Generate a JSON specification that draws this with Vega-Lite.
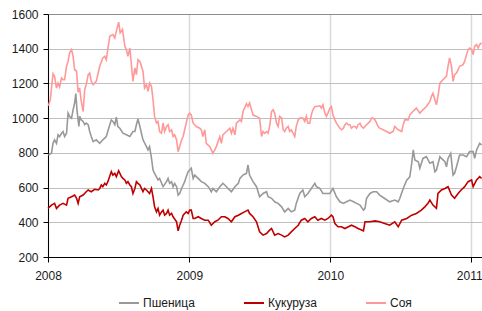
{
  "$schema": "https://vega.github.io/schema/vega-lite/v6.json",
  "width": 434,
  "height": 243,
  "autosize": {"type": "none"},
  "padding": {"left": 48, "top": 14, "right": 0, "bottom": 54},
  "background": "white",
  "config": {
    "view": {"stroke": null},
    "font": "Liberation Sans",
    "axis": {"labelFont": "Liberation Sans", "labelFontSize": 12, "labelColor": "#1a1a1a"}
  },
  "data": {"values": [
{"s":"Соя","d":"2008-01-02","v":1071},{"s":"Соя","d":"2008-01-07","v":1106},{"s":"Соя","d":"2008-01-14","v":1256},{"s":"Соя","d":"2008-01-18","v":1241},{"s":"Соя","d":"2008-01-23","v":1173},{"s":"Соя","d":"2008-01-27","v":1202},{"s":"Соя","d":"2008-01-31","v":1179},{"s":"Соя","d":"2008-02-05","v":1231},{"s":"Соя","d":"2008-02-09","v":1221},{"s":"Соя","d":"2008-02-13","v":1221},{"s":"Соя","d":"2008-02-18","v":1299},{"s":"Соя","d":"2008-02-22","v":1327},{"s":"Соя","d":"2008-02-26","v":1376},{"s":"Соя","d":"2008-03-02","v":1395},{"s":"Соя","d":"2008-03-06","v":1356},{"s":"Соя","d":"2008-03-10","v":1279},{"s":"Соя","d":"2008-03-15","v":1270},{"s":"Соя","d":"2008-03-19","v":1150},{"s":"Соя","d":"2008-03-23","v":1173},{"s":"Соя","d":"2008-03-27","v":1100},{"s":"Соя","d":"2008-04-01","v":1038},{"s":"Соя","d":"2008-04-05","v":1164},{"s":"Соя","d":"2008-04-09","v":1193},{"s":"Соя","d":"2008-04-14","v":1250},{"s":"Соя","d":"2008-04-18","v":1260},{"s":"Соя","d":"2008-04-22","v":1212},{"s":"Соя","d":"2008-04-27","v":1193},{"s":"Соя","d":"2008-05-05","v":1212},{"s":"Соя","d":"2008-05-10","v":1260},{"s":"Соя","d":"2008-05-14","v":1299},{"s":"Соя","d":"2008-05-22","v":1347},{"s":"Соя","d":"2008-05-27","v":1356},{"s":"Соя","d":"2008-05-31","v":1337},{"s":"Соя","d":"2008-06-09","v":1472},{"s":"Соя","d":"2008-06-17","v":1482},{"s":"Соя","d":"2008-06-22","v":1462},{"s":"Соя","d":"2008-06-26","v":1501},{"s":"Соя","d":"2008-07-02","v":1553},{"s":"Соя","d":"2008-07-06","v":1491},{"s":"Соя","d":"2008-07-12","v":1511},{"s":"Соя","d":"2008-07-18","v":1414},{"s":"Соя","d":"2008-07-22","v":1395},{"s":"Соя","d":"2008-07-26","v":1356},{"s":"Соя","d":"2008-07-31","v":1404},{"s":"Соя","d":"2008-08-04","v":1308},{"s":"Соя","d":"2008-08-08","v":1212},{"s":"Соя","d":"2008-08-13","v":1289},{"s":"Соя","d":"2008-08-17","v":1250},{"s":"Соя","d":"2008-08-21","v":1337},{"s":"Соя","d":"2008-08-26","v":1327},{"s":"Соя","d":"2008-08-30","v":1299},{"s":"Соя","d":"2008-09-03","v":1270},{"s":"Соя","d":"2008-09-07","v":1173},{"s":"Соя","d":"2008-09-12","v":1193},{"s":"Соя","d":"2008-09-16","v":1154},{"s":"Соя","d":"2008-09-20","v":1202},{"s":"Соя","d":"2008-09-25","v":1183},{"s":"Соя","d":"2008-09-29","v":1106},{"s":"Соя","d":"2008-10-03","v":1010},{"s":"Соя","d":"2008-10-08","v":972},{"s":"Соя","d":"2008-10-12","v":981},{"s":"Соя","d":"2008-10-16","v":923},{"s":"Соя","d":"2008-10-21","v":913},{"s":"Соя","d":"2008-10-25","v":972},{"s":"Соя","d":"2008-10-29","v":923},{"s":"Соя","d":"2008-11-03","v":952},{"s":"Соя","d":"2008-11-07","v":962},{"s":"Соя","d":"2008-11-11","v":923},{"s":"Соя","d":"2008-11-16","v":933},{"s":"Соя","d":"2008-11-20","v":894},{"s":"Соя","d":"2008-11-24","v":904},{"s":"Соя","d":"2008-11-29","v":875},{"s":"Соя","d":"2008-12-03","v":807},{"s":"Соя","d":"2008-12-07","v":836},{"s":"Соя","d":"2008-12-12","v":875},{"s":"Соя","d":"2008-12-16","v":894},{"s":"Соя","d":"2008-12-20","v":933},{"s":"Соя","d":"2008-12-24","v":972},{"s":"Соя","d":"2008-12-29","v":1019},
{"s":"Соя","d":"2009-01-02","v":1029},{"s":"Соя","d":"2009-01-06","v":1019},{"s":"Соя","d":"2009-01-11","v":971},{"s":"Соя","d":"2009-01-19","v":952},{"s":"Соя","d":"2009-01-28","v":942},{"s":"Соя","d":"2009-02-01","v":933},{"s":"Соя","d":"2009-02-05","v":894},{"s":"Соя","d":"2009-02-10","v":933},{"s":"Соя","d":"2009-02-14","v":855},{"s":"Соя","d":"2009-02-23","v":836},{"s":"Соя","d":"2009-03-03","v":798},{"s":"Соя","d":"2009-03-08","v":817},{"s":"Соя","d":"2009-03-12","v":836},{"s":"Соя","d":"2009-03-21","v":894},{"s":"Соя","d":"2009-03-25","v":855},{"s":"Соя","d":"2009-03-29","v":904},{"s":"Соя","d":"2009-04-07","v":923},{"s":"Соя","d":"2009-04-16","v":942},{"s":"Соя","d":"2009-04-20","v":913},{"s":"Соя","d":"2009-04-24","v":942},{"s":"Соя","d":"2009-04-29","v":904},{"s":"Соя","d":"2009-05-03","v":971},{"s":"Соя","d":"2009-05-12","v":990},{"s":"Соя","d":"2009-05-16","v":981},{"s":"Соя","d":"2009-05-20","v":1038},{"s":"Соя","d":"2009-05-24","v":1058},{"s":"Соя","d":"2009-05-29","v":1083},{"s":"Соя","d":"2009-06-02","v":1067},{"s":"Соя","d":"2009-06-06","v":1087},{"s":"Соя","d":"2009-06-11","v":1048},{"s":"Соя","d":"2009-06-15","v":1019},{"s":"Соя","d":"2009-06-24","v":1010},{"s":"Соя","d":"2009-07-02","v":1000},{"s":"Соя","d":"2009-07-07","v":894},{"s":"Соя","d":"2009-07-11","v":923},{"s":"Соя","d":"2009-07-15","v":913},{"s":"Соя","d":"2009-07-20","v":923},{"s":"Соя","d":"2009-07-24","v":913},{"s":"Соя","d":"2009-07-28","v":952},{"s":"Соя","d":"2009-08-02","v":1038},{"s":"Соя","d":"2009-08-06","v":1048},{"s":"Соя","d":"2009-08-10","v":1029},{"s":"Соя","d":"2009-08-15","v":971},{"s":"Соя","d":"2009-08-19","v":952},{"s":"Соя","d":"2009-08-23","v":1010},{"s":"Соя","d":"2009-08-28","v":1000},{"s":"Соя","d":"2009-09-01","v":933},{"s":"Соя","d":"2009-09-05","v":923},{"s":"Соя","d":"2009-09-09","v":942},{"s":"Соя","d":"2009-09-14","v":952},{"s":"Соя","d":"2009-09-18","v":923},{"s":"Соя","d":"2009-09-22","v":933},{"s":"Соя","d":"2009-09-27","v":913},{"s":"Соя","d":"2009-10-01","v":894},{"s":"Соя","d":"2009-10-05","v":952},{"s":"Соя","d":"2009-10-10","v":990},{"s":"Соя","d":"2009-10-14","v":1000},{"s":"Соя","d":"2009-10-22","v":1000},{"s":"Соя","d":"2009-10-27","v":981},{"s":"Соя","d":"2009-10-31","v":1010},{"s":"Соя","d":"2009-11-04","v":971},{"s":"Соя","d":"2009-11-09","v":971},{"s":"Соя","d":"2009-11-13","v":1019},{"s":"Соя","d":"2009-11-17","v":1048},{"s":"Соя","d":"2009-11-22","v":1067},{"s":"Соя","d":"2009-11-26","v":1067},{"s":"Соя","d":"2009-12-05","v":1071},{"s":"Соя","d":"2009-12-09","v":1058},{"s":"Соя","d":"2009-12-13","v":1077},{"s":"Соя","d":"2009-12-18","v":1029},{"s":"Соя","d":"2009-12-22","v":1010},{"s":"Соя","d":"2009-12-26","v":1029},{"s":"Соя","d":"2009-12-31","v":1058},
{"s":"Соя","d":"2010-01-04","v":1067},{"s":"Соя","d":"2010-01-08","v":1019},{"s":"Соя","d":"2010-01-13","v":990},{"s":"Соя","d":"2010-01-17","v":971},{"s":"Соя","d":"2010-01-26","v":942},{"s":"Соя","d":"2010-01-30","v":933},{"s":"Соя","d":"2010-02-04","v":942},{"s":"Соя","d":"2010-02-08","v":962},{"s":"Соя","d":"2010-02-12","v":971},{"s":"Соя","d":"2010-02-17","v":962},{"s":"Соя","d":"2010-02-21","v":962},{"s":"Соя","d":"2010-02-25","v":942},{"s":"Соя","d":"2010-03-02","v":952},{"s":"Соя","d":"2010-03-06","v":952},{"s":"Соя","d":"2010-03-10","v":942},{"s":"Соя","d":"2010-03-14","v":962},{"s":"Соя","d":"2010-03-19","v":971},{"s":"Соя","d":"2010-03-23","v":952},{"s":"Соя","d":"2010-03-28","v":942},{"s":"Соя","d":"2010-04-05","v":962},{"s":"Соя","d":"2010-04-14","v":981},{"s":"Соя","d":"2010-04-18","v":1000},{"s":"Соя","d":"2010-04-22","v":1000},{"s":"Соя","d":"2010-04-27","v":990},{"s":"Соя","d":"2010-05-01","v":971},{"s":"Соя","d":"2010-05-05","v":952},{"s":"Соя","d":"2010-05-09","v":942},{"s":"Соя","d":"2010-05-18","v":933},{"s":"Соя","d":"2010-05-27","v":923},{"s":"Соя","d":"2010-06-04","v":913},{"s":"Соя","d":"2010-06-13","v":923},{"s":"Соя","d":"2010-06-17","v":952},{"s":"Соя","d":"2010-06-26","v":933},{"s":"Соя","d":"2010-07-05","v":923},{"s":"Соя","d":"2010-07-09","v":962},{"s":"Соя","d":"2010-07-13","v":990},{"s":"Соя","d":"2010-07-22","v":990},{"s":"Соя","d":"2010-07-26","v":1019},{"s":"Соя","d":"2010-08-03","v":1038},{"s":"Соя","d":"2010-08-12","v":1058},{"s":"Соя","d":"2010-08-21","v":1029},{"s":"Соя","d":"2010-08-29","v":1048},{"s":"Соя","d":"2010-09-07","v":1067},{"s":"Соя","d":"2010-09-16","v":1096},{"s":"Соя","d":"2010-09-20","v":1125},{"s":"Соя","d":"2010-09-24","v":1144},{"s":"Соя","d":"2010-09-29","v":1106},{"s":"Соя","d":"2010-10-03","v":1077},{"s":"Соя","d":"2010-10-07","v":1125},{"s":"Соя","d":"2010-10-12","v":1202},{"s":"Соя","d":"2010-10-20","v":1221},{"s":"Соя","d":"2010-10-29","v":1241},{"s":"Соя","d":"2010-11-02","v":1299},{"s":"Соя","d":"2010-11-06","v":1347},{"s":"Соя","d":"2010-11-11","v":1299},{"s":"Соя","d":"2010-11-15","v":1212},{"s":"Соя","d":"2010-11-19","v":1250},{"s":"Соя","d":"2010-11-24","v":1260},{"s":"Соя","d":"2010-12-02","v":1299},{"s":"Соя","d":"2010-12-11","v":1308},{"s":"Соя","d":"2010-12-15","v":1327},{"s":"Соя","d":"2010-12-20","v":1366},{"s":"Соя","d":"2010-12-24","v":1395},{"s":"Соя","d":"2010-12-28","v":1404},{"s":"Соя","d":"2011-01-02","v":1395},{"s":"Соя","d":"2011-01-06","v":1366},{"s":"Соя","d":"2011-01-10","v":1414},{"s":"Соя","d":"2011-01-15","v":1424},{"s":"Соя","d":"2011-01-19","v":1404},{"s":"Соя","d":"2011-01-23","v":1424},{"s":"Соя","d":"2011-01-28","v":1433},
{"s":"Пшеница","d":"2008-01-02","v":788},{"s":"Пшеница","d":"2008-01-10","v":798},{"s":"Пшеница","d":"2008-01-14","v":855},{"s":"Пшеница","d":"2008-01-18","v":875},{"s":"Пшеница","d":"2008-01-23","v":855},{"s":"Пшеница","d":"2008-01-27","v":904},{"s":"Пшеница","d":"2008-01-31","v":894},{"s":"Пшеница","d":"2008-02-05","v":913},{"s":"Пшеница","d":"2008-02-09","v":923},{"s":"Пшеница","d":"2008-02-13","v":894},{"s":"Пшеница","d":"2008-02-18","v":913},{"s":"Пшеница","d":"2008-02-22","v":1029},{"s":"Пшеница","d":"2008-02-26","v":1010},{"s":"Пшеница","d":"2008-03-02","v":1000},{"s":"Пшеница","d":"2008-03-06","v":1048},{"s":"Пшеница","d":"2008-03-10","v":1087},{"s":"Пшеница","d":"2008-03-13","v":1141},{"s":"Пшеница","d":"2008-03-16","v":1048},{"s":"Пшеница","d":"2008-03-21","v":952},{"s":"Пшеница","d":"2008-03-23","v":1010},{"s":"Пшеница","d":"2008-03-27","v":990},{"s":"Пшеница","d":"2008-04-01","v":981},{"s":"Пшеница","d":"2008-04-05","v":962},{"s":"Пшеница","d":"2008-04-09","v":971},{"s":"Пшеница","d":"2008-04-14","v":962},{"s":"Пшеница","d":"2008-04-18","v":923},{"s":"Пшеница","d":"2008-04-22","v":894},{"s":"Пшеница","d":"2008-04-27","v":865},{"s":"Пшеница","d":"2008-05-05","v":875},{"s":"Пшеница","d":"2008-05-14","v":855},{"s":"Пшеница","d":"2008-05-18","v":865},{"s":"Пшеница","d":"2008-05-22","v":875},{"s":"Пшеница","d":"2008-05-31","v":894},{"s":"Пшеница","d":"2008-06-09","v":962},{"s":"Пшеница","d":"2008-06-13","v":990},{"s":"Пшеница","d":"2008-06-17","v":981},{"s":"Пшеница","d":"2008-06-22","v":962},{"s":"Пшеница","d":"2008-06-26","v":1006},{"s":"Пшеница","d":"2008-06-30","v":952},{"s":"Пшеница","d":"2008-07-05","v":942},{"s":"Пшеница","d":"2008-07-13","v":913},{"s":"Пшеница","d":"2008-07-22","v":904},{"s":"Пшеница","d":"2008-07-31","v":894},{"s":"Пшеница","d":"2008-08-08","v":923},{"s":"Пшеница","d":"2008-08-13","v":923},{"s":"Пшеница","d":"2008-08-17","v":962},{"s":"Пшеница","d":"2008-08-21","v":996},{"s":"Пшеница","d":"2008-08-26","v":952},{"s":"Пшеница","d":"2008-08-30","v":913},{"s":"Пшеница","d":"2008-09-03","v":875},{"s":"Пшеница","d":"2008-09-12","v":836},{"s":"Пшеница","d":"2008-09-16","v":817},{"s":"Пшеница","d":"2008-09-20","v":836},{"s":"Пшеница","d":"2008-09-25","v":770},{"s":"Пшеница","d":"2008-09-29","v":701},{"s":"Пшеница","d":"2008-10-03","v":682},{"s":"Пшеница","d":"2008-10-12","v":644},{"s":"Пшеница","d":"2008-10-16","v":653},{"s":"Пшеница","d":"2008-10-25","v":605},{"s":"Пшеница","d":"2008-11-03","v":634},{"s":"Пшеница","d":"2008-11-07","v":653},{"s":"Пшеница","d":"2008-11-11","v":624},{"s":"Пшеница","d":"2008-11-16","v":634},{"s":"Пшеница","d":"2008-11-20","v":605},{"s":"Пшеница","d":"2008-11-24","v":624},{"s":"Пшеница","d":"2008-11-29","v":605},{"s":"Пшеница","d":"2008-12-03","v":557},{"s":"Пшеница","d":"2008-12-07","v":566},{"s":"Пшеница","d":"2008-12-12","v":595},{"s":"Пшеница","d":"2008-12-16","v":615},{"s":"Пшеница","d":"2008-12-20","v":634},{"s":"Пшеница","d":"2008-12-24","v":663},{"s":"Пшеница","d":"2008-12-29","v":692},
{"s":"Пшеница","d":"2009-01-02","v":701},{"s":"Пшеница","d":"2009-01-06","v":711},{"s":"Пшеница","d":"2009-01-11","v":653},{"s":"Пшеница","d":"2009-01-15","v":672},{"s":"Пшеница","d":"2009-01-24","v":653},{"s":"Пшеница","d":"2009-02-01","v":634},{"s":"Пшеница","d":"2009-02-10","v":624},{"s":"Пшеница","d":"2009-02-19","v":605},{"s":"Пшеница","d":"2009-02-27","v":576},{"s":"Пшеница","d":"2009-03-03","v":595},{"s":"Пшеница","d":"2009-03-12","v":576},{"s":"Пшеница","d":"2009-03-21","v":605},{"s":"Пшеница","d":"2009-03-29","v":624},{"s":"Пшеница","d":"2009-04-03","v":615},{"s":"Пшеница","d":"2009-04-11","v":595},{"s":"Пшеница","d":"2009-04-20","v":576},{"s":"Пшеница","d":"2009-04-29","v":605},{"s":"Пшеница","d":"2009-05-08","v":624},{"s":"Пшеница","d":"2009-05-12","v":653},{"s":"Пшеница","d":"2009-05-20","v":672},{"s":"Пшеница","d":"2009-05-29","v":682},{"s":"Пшеница","d":"2009-06-02","v":730},{"s":"Пшеница","d":"2009-06-06","v":672},{"s":"Пшеница","d":"2009-06-15","v":634},{"s":"Пшеница","d":"2009-06-24","v":605},{"s":"Пшеница","d":"2009-07-02","v":547},{"s":"Пшеница","d":"2009-07-11","v":566},{"s":"Пшеница","d":"2009-07-20","v":576},{"s":"Пшеница","d":"2009-07-24","v":547},{"s":"Пшеница","d":"2009-08-02","v":538},{"s":"Пшеница","d":"2009-08-10","v":518},{"s":"Пшеница","d":"2009-08-19","v":509},{"s":"Пшеница","d":"2009-08-28","v":489},{"s":"Пшеница","d":"2009-09-05","v":460},{"s":"Пшеница","d":"2009-09-14","v":480},{"s":"Пшеница","d":"2009-09-22","v":460},{"s":"Пшеница","d":"2009-10-01","v":470},{"s":"Пшеница","d":"2009-10-05","v":509},{"s":"Пшеница","d":"2009-10-14","v":566},{"s":"Пшеница","d":"2009-10-22","v":586},{"s":"Пшеница","d":"2009-10-27","v":547},{"s":"Пшеница","d":"2009-11-04","v":566},{"s":"Пшеница","d":"2009-11-13","v":595},{"s":"Пшеница","d":"2009-11-22","v":624},{"s":"Пшеница","d":"2009-11-26","v":605},{"s":"Пшеница","d":"2009-12-05","v":595},{"s":"Пшеница","d":"2009-12-13","v":566},{"s":"Пшеница","d":"2009-12-22","v":566},{"s":"Пшеница","d":"2009-12-31","v":566},
{"s":"Пшеница","d":"2010-01-08","v":595},{"s":"Пшеница","d":"2010-01-17","v":547},{"s":"Пшеница","d":"2010-01-26","v":518},{"s":"Пшеница","d":"2010-02-04","v":509},{"s":"Пшеница","d":"2010-02-12","v":518},{"s":"Пшеница","d":"2010-02-21","v":528},{"s":"Пшеница","d":"2010-03-02","v":518},{"s":"Пшеница","d":"2010-03-10","v":509},{"s":"Пшеница","d":"2010-03-19","v":499},{"s":"Пшеница","d":"2010-03-28","v":470},{"s":"Пшеница","d":"2010-04-01","v":480},{"s":"Пшеница","d":"2010-04-05","v":538},{"s":"Пшеница","d":"2010-04-14","v":566},{"s":"Пшеница","d":"2010-04-22","v":576},{"s":"Пшеница","d":"2010-05-01","v":576},{"s":"Пшеница","d":"2010-05-09","v":557},{"s":"Пшеница","d":"2010-05-22","v":537},{"s":"Пшеница","d":"2010-06-04","v":518},{"s":"Пшеница","d":"2010-06-17","v":528},{"s":"Пшеница","d":"2010-06-26","v":518},{"s":"Пшеница","d":"2010-06-30","v":537},{"s":"Пшеница","d":"2010-07-09","v":595},{"s":"Пшеница","d":"2010-07-18","v":643},{"s":"Пшеница","d":"2010-07-26","v":662},{"s":"Пшеница","d":"2010-07-31","v":740},{"s":"Пшеница","d":"2010-08-04","v":817},{"s":"Пшеница","d":"2010-08-08","v":759},{"s":"Пшеница","d":"2010-08-17","v":749},{"s":"Пшеница","d":"2010-08-21","v":711},{"s":"Пшеница","d":"2010-08-29","v":768},{"s":"Пшеница","d":"2010-09-07","v":778},{"s":"Пшеница","d":"2010-09-16","v":740},{"s":"Пшеница","d":"2010-09-24","v":749},{"s":"Пшеница","d":"2010-09-29","v":691},{"s":"Пшеница","d":"2010-10-03","v":701},{"s":"Пшеница","d":"2010-10-12","v":778},{"s":"Пшеница","d":"2010-10-16","v":768},{"s":"Пшеница","d":"2010-10-25","v":749},{"s":"Пшеница","d":"2010-10-29","v":720},{"s":"Пшеница","d":"2010-11-02","v":768},{"s":"Пшеница","d":"2010-11-09","v":797},{"s":"Пшеница","d":"2010-11-15","v":672},{"s":"Пшеница","d":"2010-11-19","v":682},{"s":"Пшеница","d":"2010-11-24","v":720},{"s":"Пшеница","d":"2010-12-02","v":788},{"s":"Пшеница","d":"2010-12-11","v":788},{"s":"Пшеница","d":"2010-12-20","v":778},{"s":"Пшеница","d":"2010-12-28","v":807},{"s":"Пшеница","d":"2011-01-06","v":807},{"s":"Пшеница","d":"2011-01-10","v":768},{"s":"Пшеница","d":"2011-01-15","v":817},{"s":"Пшеница","d":"2011-01-23","v":855},{"s":"Пшеница","d":"2011-01-28","v":846},
{"s":"Кукуруза","d":"2008-01-01","v":480},{"s":"Кукуруза","d":"2008-01-10","v":499},{"s":"Кукуруза","d":"2008-01-18","v":509},{"s":"Кукуруза","d":"2008-01-23","v":480},{"s":"Кукуруза","d":"2008-01-31","v":499},{"s":"Кукуруза","d":"2008-02-09","v":509},{"s":"Кукуруза","d":"2008-02-18","v":499},{"s":"Кукуруза","d":"2008-02-22","v":538},{"s":"Кукуруза","d":"2008-03-02","v":547},{"s":"Кукуруза","d":"2008-03-10","v":557},{"s":"Кукуруза","d":"2008-03-15","v":538},{"s":"Кукуруза","d":"2008-03-19","v":509},{"s":"Кукуруза","d":"2008-03-23","v":547},{"s":"Кукуруза","d":"2008-04-01","v":557},{"s":"Кукуруза","d":"2008-04-09","v":576},{"s":"Кукуруза","d":"2008-04-14","v":586},{"s":"Кукуруза","d":"2008-04-22","v":576},{"s":"Кукуруза","d":"2008-05-01","v":590},{"s":"Кукуруза","d":"2008-05-10","v":586},{"s":"Кукуруза","d":"2008-05-14","v":595},{"s":"Кукуруза","d":"2008-05-18","v":615},{"s":"Кукуруза","d":"2008-05-22","v":605},{"s":"Кукуруза","d":"2008-05-27","v":624},{"s":"Кукуруза","d":"2008-05-31","v":615},{"s":"Кукуруза","d":"2008-06-04","v":634},{"s":"Кукуруза","d":"2008-06-13","v":692},{"s":"Кукуруза","d":"2008-06-17","v":672},{"s":"Кукуруза","d":"2008-06-22","v":682},{"s":"Кукуруза","d":"2008-06-26","v":663},{"s":"Кукуруза","d":"2008-07-02","v":697},{"s":"Кукуруза","d":"2008-07-09","v":663},{"s":"Кукуруза","d":"2008-07-13","v":653},{"s":"Кукуруза","d":"2008-07-18","v":644},{"s":"Кукуруза","d":"2008-07-22","v":624},{"s":"Кукуруза","d":"2008-07-26","v":634},{"s":"Кукуруза","d":"2008-07-31","v":615},{"s":"Кукуруза","d":"2008-08-04","v":605},{"s":"Кукуруза","d":"2008-08-08","v":566},{"s":"Кукуруза","d":"2008-08-13","v":595},{"s":"Кукуруза","d":"2008-08-17","v":634},{"s":"Кукуруза","d":"2008-08-21","v":624},{"s":"Кукуруза","d":"2008-08-26","v":615},{"s":"Кукуруза","d":"2008-08-30","v":595},{"s":"Кукуруза","d":"2008-09-03","v":576},{"s":"Кукуруза","d":"2008-09-07","v":595},{"s":"Кукуруза","d":"2008-09-12","v":586},{"s":"Кукуруза","d":"2008-09-20","v":566},{"s":"Кукуруза","d":"2008-09-25","v":595},{"s":"Кукуруза","d":"2008-09-29","v":547},{"s":"Кукуруза","d":"2008-10-03","v":489},{"s":"Кукуруза","d":"2008-10-08","v":460},{"s":"Кукуруза","d":"2008-10-12","v":480},{"s":"Кукуруза","d":"2008-10-16","v":441},{"s":"Кукуруза","d":"2008-10-21","v":460},{"s":"Кукуруза","d":"2008-10-25","v":470},{"s":"Кукуруза","d":"2008-10-29","v":441},{"s":"Кукуруза","d":"2008-11-03","v":451},{"s":"Кукуруза","d":"2008-11-07","v":470},{"s":"Кукуруза","d":"2008-11-11","v":441},{"s":"Кукуруза","d":"2008-11-16","v":451},{"s":"Кукуруза","d":"2008-11-20","v":432},{"s":"Кукуруза","d":"2008-11-29","v":403},{"s":"Кукуруза","d":"2008-12-03","v":351},{"s":"Кукуруза","d":"2008-12-07","v":383},{"s":"Кукуруза","d":"2008-12-12","v":412},{"s":"Кукуруза","d":"2008-12-16","v":441},{"s":"Кукуруза","d":"2008-12-20","v":451},{"s":"Кукуруза","d":"2008-12-24","v":460},{"s":"Кукуруза","d":"2008-12-29","v":451},
{"s":"Кукуруза","d":"2009-01-02","v":470},{"s":"Кукуруза","d":"2009-01-06","v":470},{"s":"Кукуруза","d":"2009-01-11","v":422},{"s":"Кукуруза","d":"2009-01-15","v":422},{"s":"Кукуруза","d":"2009-01-24","v":432},{"s":"Кукуруза","d":"2009-02-01","v":422},{"s":"Кукуруза","d":"2009-02-10","v":412},{"s":"Кукуруза","d":"2009-02-19","v":412},{"s":"Кукуруза","d":"2009-02-27","v":383},{"s":"Кукуруза","d":"2009-03-08","v":403},{"s":"Кукуруза","d":"2009-03-16","v":412},{"s":"Кукуруза","d":"2009-03-25","v":432},{"s":"Кукуруза","d":"2009-04-03","v":432},{"s":"Кукуруза","d":"2009-04-11","v":422},{"s":"Кукуруза","d":"2009-04-20","v":403},{"s":"Кукуруза","d":"2009-04-29","v":432},{"s":"Кукуруза","d":"2009-05-08","v":441},{"s":"Кукуруза","d":"2009-05-16","v":451},{"s":"Кукуруза","d":"2009-05-24","v":460},{"s":"Кукуруза","d":"2009-06-02","v":470},{"s":"Кукуруза","d":"2009-06-06","v":451},{"s":"Кукуруза","d":"2009-06-15","v":432},{"s":"Кукуруза","d":"2009-06-24","v":403},{"s":"Кукуруза","d":"2009-07-02","v":345},{"s":"Кукуруза","d":"2009-07-11","v":326},{"s":"Кукуруза","d":"2009-07-20","v":335},{"s":"Кукуруза","d":"2009-07-28","v":355},{"s":"Кукуруза","d":"2009-08-02","v":364},{"s":"Кукуруза","d":"2009-08-10","v":326},{"s":"Кукуруза","d":"2009-08-19","v":335},{"s":"Кукуруза","d":"2009-08-28","v":326},{"s":"Кукуруза","d":"2009-09-05","v":316},{"s":"Кукуруза","d":"2009-09-14","v":326},{"s":"Кукуруза","d":"2009-09-22","v":345},{"s":"Кукуруза","d":"2009-10-01","v":364},{"s":"Кукуруза","d":"2009-10-10","v":383},{"s":"Кукуруза","d":"2009-10-18","v":412},{"s":"Кукуруза","d":"2009-10-27","v":422},{"s":"Кукуруза","d":"2009-11-04","v":403},{"s":"Кукуруза","d":"2009-11-13","v":422},{"s":"Кукуруза","d":"2009-11-22","v":432},{"s":"Кукуруза","d":"2009-11-30","v":412},{"s":"Кукуруза","d":"2009-12-09","v":422},{"s":"Кукуруза","d":"2009-12-18","v":412},{"s":"Кукуруза","d":"2009-12-26","v":422},
{"s":"Кукуруза","d":"2010-01-04","v":441},{"s":"Кукуруза","d":"2010-01-08","v":432},{"s":"Кукуруза","d":"2010-01-13","v":393},{"s":"Кукуруза","d":"2010-01-21","v":374},{"s":"Кукуруза","d":"2010-01-30","v":374},{"s":"Кукуруза","d":"2010-02-08","v":364},{"s":"Кукуруза","d":"2010-02-17","v":374},{"s":"Кукуруза","d":"2010-02-25","v":383},{"s":"Кукуруза","d":"2010-03-06","v":374},{"s":"Кукуруза","d":"2010-03-14","v":364},{"s":"Кукуруза","d":"2010-03-23","v":355},{"s":"Кукуруза","d":"2010-03-28","v":350},{"s":"Кукуруза","d":"2010-04-01","v":403},{"s":"Кукуруза","d":"2010-04-14","v":403},{"s":"Кукуруза","d":"2010-04-27","v":408},{"s":"Кукуруза","d":"2010-05-09","v":403},{"s":"Кукуруза","d":"2010-05-22","v":393},{"s":"Кукуруза","d":"2010-06-04","v":383},{"s":"Кукуруза","d":"2010-06-17","v":403},{"s":"Кукуруза","d":"2010-06-26","v":374},{"s":"Кукуруза","d":"2010-07-05","v":412},{"s":"Кукуруза","d":"2010-07-18","v":422},{"s":"Кукуруза","d":"2010-07-31","v":441},{"s":"Кукуруза","d":"2010-08-12","v":451},{"s":"Кукуруза","d":"2010-08-25","v":470},{"s":"Кукуруза","d":"2010-09-03","v":489},{"s":"Кукуруза","d":"2010-09-11","v":509},{"s":"Кукуруза","d":"2010-09-16","v":528},{"s":"Кукуруза","d":"2010-09-24","v":499},{"s":"Кукуруза","d":"2010-10-03","v":480},{"s":"Кукуруза","d":"2010-10-07","v":566},{"s":"Кукуруза","d":"2010-10-16","v":586},{"s":"Кукуруза","d":"2010-10-25","v":595},{"s":"Кукуруза","d":"2010-11-02","v":605},{"s":"Кукуруза","d":"2010-11-11","v":557},{"s":"Кукуруза","d":"2010-11-19","v":538},{"s":"Кукуруза","d":"2010-11-28","v":566},{"s":"Кукуруза","d":"2010-12-06","v":586},{"s":"Кукуруза","d":"2010-12-15","v":605},{"s":"Кукуруза","d":"2010-12-24","v":634},{"s":"Кукуруза","d":"2011-01-02","v":644},{"s":"Кукуруза","d":"2011-01-06","v":605},{"s":"Кукуруза","d":"2011-01-15","v":644},{"s":"Кукуруза","d":"2011-01-23","v":663},{"s":"Кукуруза","d":"2011-01-28","v":653}
  ]},
  "mark": {"type": "line", "strokeWidth": 1.6},
  "encoding": {
    "x": {
      "field": "d", "type": "temporal", "title": null,
      "scale": {"domain": ["2008-01-01", "2011-01-29"]},
      "axis": {"format": "%Y", "tickCount": "year", "domainColor": "#000000", "tickColor": "#000000", "tickSize": 5, "labelPadding": 8, "gridColor": "#d9d9d9", "gridWidth": 1.5, "labelAlign": "center", "labelFlush": false,
        "labelOffset": {"condition": {"test": "year(datum.value) >= 2011", "value": -2}, "value": 0}}
    },
    "y": {
      "field": "v", "type": "quantitative", "title": null,
      "scale": {"domain": [200, 1600], "nice": false},
      "axis": {"values": [200, 400, 600, 800, 1000, 1200, 1400, 1600], "format": "d", "domainColor": "#000000", "tickColor": "#000000", "tickSize": 5, "labelPadding": 5,
        "gridColor": {"condition": {"test": "datum.value == 1600", "value": "#8c8c8c"}, "value": "#bfbfbf"}}
    },
    "color": {
      "field": "s", "type": "nominal", "title": null,
      "scale": {"domain": ["Пшеница", "Кукуруза", "Соя"], "range": ["#999999", "#c00000", "#ff9999"]},
      "legend": {"orient": "none", "legendX": 70, "legendY": 278, "direction": "horizontal", "symbolType": "stroke", "symbolSize": 400, "symbolStrokeWidth": 2, "labelFontSize": 12, "labelFont": "Liberation Sans", "labelColor": "#1a1a1a", "columnPadding": 45, "labelOffset": 3}
    }
  }
}
